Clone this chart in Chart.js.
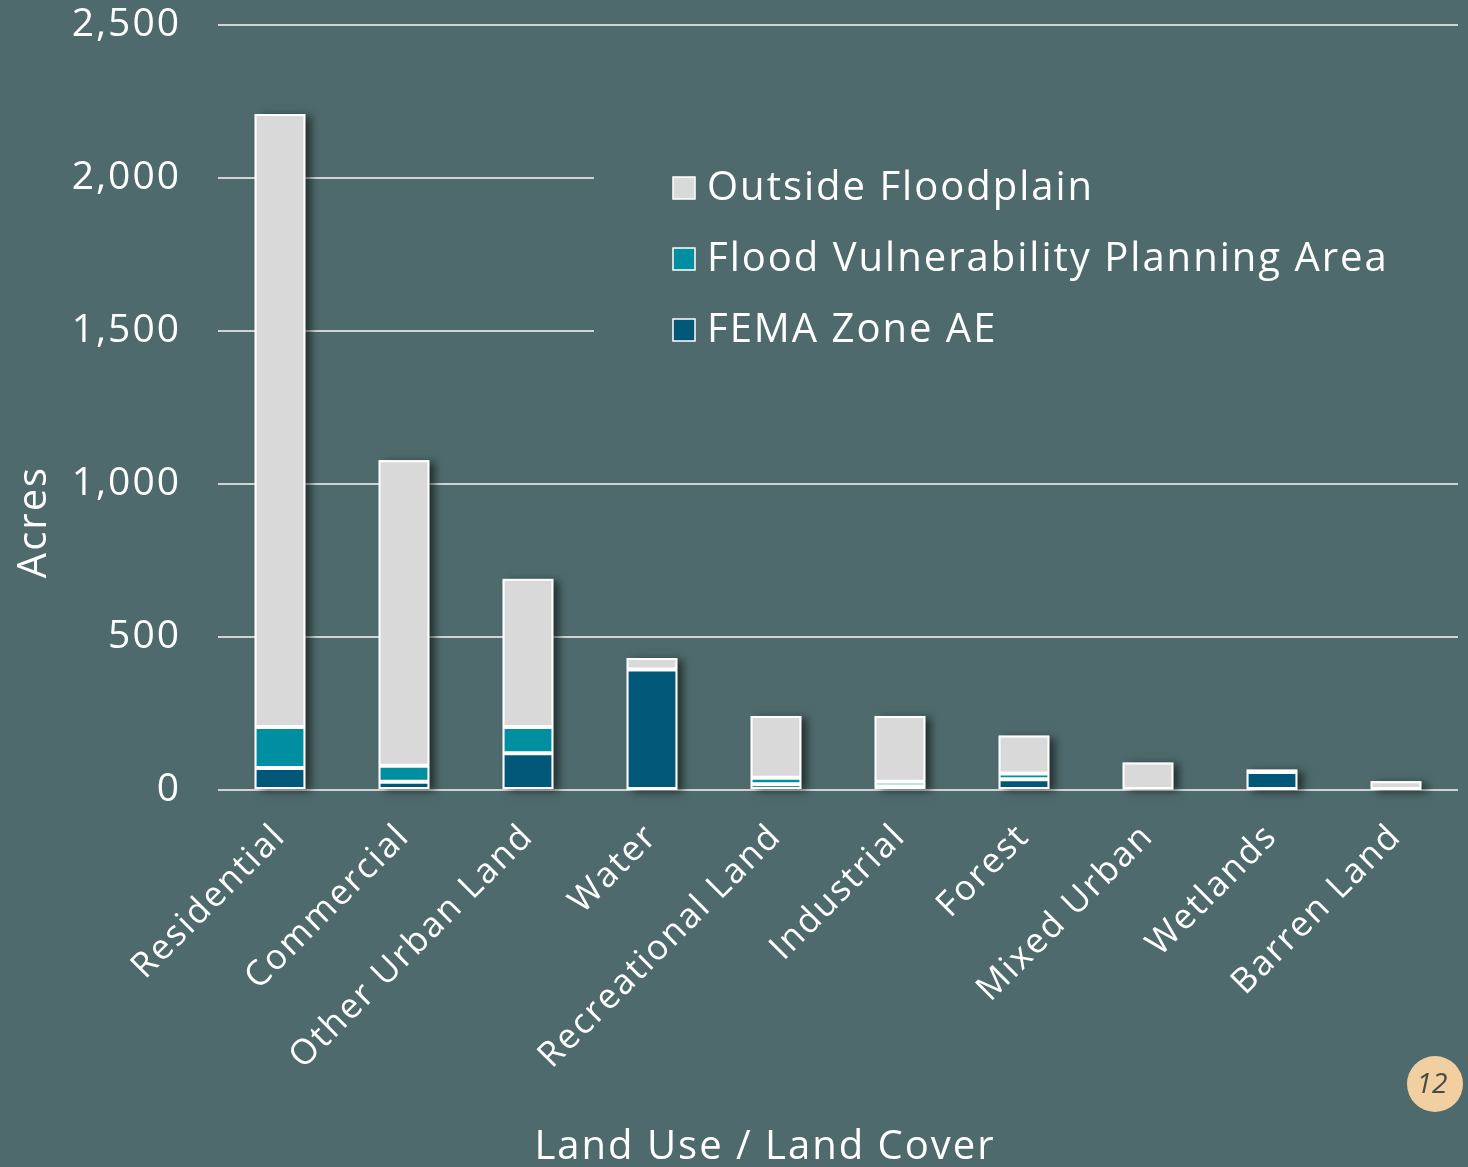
<!DOCTYPE html>
<html>
<head>
<meta charset="utf-8">
<script src="https://cdn.jsdelivr.net/npm/chart.js@4.4.1/dist/chart.umd.min.js"></script>
<style>
  body { margin: 0; background: #4e6a6c; }
  #wrap { width: 1468px; height: 1167px; position: relative; }
</style>
</head>
<body>
<div id="wrap"><canvas id="myChart"></canvas></div>
<script>
const categories = ['Residential', 'Commercial', 'Other Urban Land', 'Water', 'Recreational Land',
  'Industrial', 'Forest', 'Mixed Urban', 'Wetlands', 'Barren Land'];
const femaZoneAE = [72, 27, 120, 394, 19, 12, 35, 2, 59, null];
const floodVulnerability = [134, 52, 86, null, 21, 15, 19, 1, null, null];
const outsideFloodplain = [2003, 999, 484, 37, 202, 215, 124, 87, 8, 29];
const yTickValues = [0, 500, 1000, 1500, 2000, 2500];

const FONT = "'Open Sans', sans-serif";
const bg = '#4e6a6c';

const colors = {
  outside: '#d9d9d9',
  fvpa: '#008fa0',
  fema: '#005778',
};

// legend drawn inside the plot, over the gridlines
const legendItems = [
  {label: 'Outside Floodplain', color: colors.outside},
  {label: 'Flood Vulnerability Planning Area', color: colors.fvpa},
  {label: 'FEMA Zone AE', color: colors.fema},
];

const extras = {
  id: 'extras',
  beforeInit(chart) {
    chart.ctx.letterSpacing = '2px';
  },
  beforeDraw(chart) {
    chart.ctx.letterSpacing = '2px';
  },
  beforeDatasetsDraw(chart) {
    const {ctx, chartArea} = chart;
    ctx.save();
    ctx.fillStyle = bg;
    ctx.fillRect(594, 100, chartArea.right - 594 + 2, 300);
    ctx.font = '40px ' + FONT;
    ctx.textBaseline = 'middle';
    legendItems.forEach((it, i) => {
      const y = 188 + i * 71;
      ctx.fillStyle = it.color;
      ctx.fillRect(673, y - 11, 22, 22);
      ctx.strokeStyle = '#ffffff';
      ctx.lineWidth = 1.5;
      ctx.strokeRect(673, y - 11, 22, 22);
      ctx.fillStyle = '#ffffff';
      ctx.fillText(it.label, 707, y + 1);
    });

    // drop shadow behind each stacked column
    ctx.shadowColor = 'rgba(0,0,0,0.55)';
    ctx.shadowBlur = 8;
    ctx.shadowOffsetX = 6;
    ctx.shadowOffsetY = 2;
    ctx.fillStyle = '#ffffff';
    const metas = chart.getSortedVisibleDatasetMetas();
    categories.forEach((c, i) => {
      let top = Infinity, base = -Infinity, x = null, w = 0;
      metas.forEach(m => {
        const el = m.data[i];
        if (!el) return;
        const p = el.getProps(['x', 'y', 'base', 'width'], true);
        if (!isFinite(p.y) || !isFinite(p.base)) return;
        top = Math.min(top, p.y, p.base);
        base = Math.max(base, p.y, p.base);
        x = p.x; w = p.width;
      });
      if (x === null) return;
      ctx.fillRect(x - w / 2, top, w, base - top);
    });
    ctx.restore();
  },
  afterDraw(chart) {
    const {ctx} = chart;
    ctx.save();
    ctx.fillStyle = '#ffffff';
    ctx.font = '40px ' + FONT;
    ctx.textAlign = 'center';
    ctx.textBaseline = 'middle';
    ctx.fillText('Land Use / Land Cover', 765, 1148);
    ctx.save();
    ctx.translate(35, 522);
    ctx.rotate(-Math.PI / 2);
    ctx.fillText('Acres', 0, 0);
    ctx.restore();
    // page number
    ctx.letterSpacing = '0px';
    ctx.beginPath();
    ctx.arc(1435, 1084, 28, 0, Math.PI * 2);
    ctx.fillStyle = '#f2cfa0';
    ctx.fill();
    ctx.fillStyle = '#464b4c';
    ctx.font = 'italic 28px ' + FONT;
    ctx.fillText('12', 1432, 1085);
    ctx.restore();
  }
};

const ctx = document.getElementById('myChart').getContext('2d');

new Chart(ctx, {
  type: 'bar',
  data: {
    labels: categories,
    datasets: [
      {label: 'FEMA Zone AE', data: femaZoneAE, backgroundColor: colors.fema},
      {label: 'Flood Vulnerability Planning Area', data: floodVulnerability, backgroundColor: colors.fvpa},
      {label: 'Outside Floodplain', data: outsideFloodplain, backgroundColor: colors.outside},
    ].map(d => ({...d, borderColor: '#ffffff', borderWidth: 2, borderSkipped: false,
      barPercentage: 0.41, categoryPercentage: 1})),
  },
  options: {
    responsive: true,
    maintainAspectRatio: false,
    animation: false,
    layout: {padding: {top: 25, right: 10, left: 0, bottom: 0}},
    plugins: {
      legend: {display: false},
      tooltip: {enabled: false},
    },
    scales: {
      x: {
        stacked: true,
        grid: {display: false},
        border: {display: false},
        ticks: {
          color: '#ffffff',
          font: {family: FONT, size: 35},
          minRotation: 45,
          maxRotation: 45,
          padding: 18,
        },
        afterFit(scale) { scale.height = 377; },
      },
      y: {
        stacked: true,
        min: 0,
        max: 2500,
        afterBuildTicks(scale) { scale.ticks = yTickValues.map(v => ({value: v})); },
        grid: {color: '#d0d4d4', lineWidth: 2, drawTicks: false},
        border: {display: false},
        ticks: {
          color: '#ffffff',
          font: {family: FONT, size: 39},
          padding: 37,
          callback: v => v.toLocaleString('en-US'),
        },
        afterFit(scale) {
          scale.width = 218;
          scale.paddingTop = 20;
          scale.paddingBottom = 0;
        },
      },
    },
  },
  plugins: [extras],
});
</script>
</body>
</html>
